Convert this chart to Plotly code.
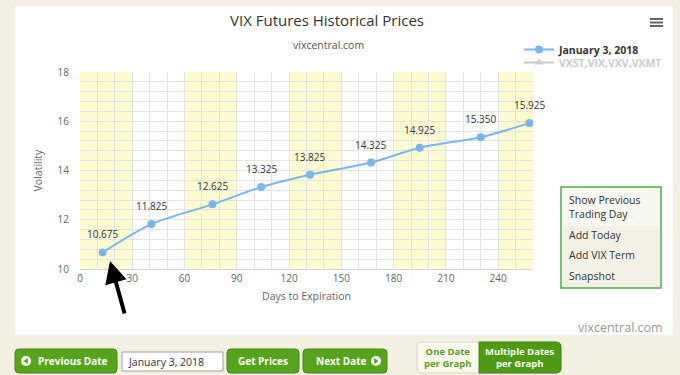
import plotly.graph_objects as go

# ---------------- data ----------------
days = [13, 41, 76, 104, 132, 167, 195, 230, 258]
prices = [10.675, 11.825, 12.625, 13.325, 13.825, 14.325, 14.925, 15.350, 15.925]
series_name = "January 3, 2018"
hidden_name = "VXST,VIX,VXV,VXMT"
x_ticks = [0, 30, 60, 90, 120, 150, 180, 210, 240]
y_ticks = [10, 12, 14, 16, 18]
band_starts = [0, 60, 120, 180, 240]
menu_items = ["Show Previous<br>Trading Day", "Add Today", "Add VIX Term", "Snapshot"]

W, H = 680, 375
FONT = "Open Sans, Liberation Sans, Arial, sans-serif"


def px(x):
    return x / W


def py(y):
    return 1 - y / H


def rrect(x0, y0, x1, y1, r):
    a0, a1 = px(x0), px(x1)
    b0, b1 = py(y0), py(y1)
    rx, ry = r / W, r / H
    return (f"M {a0+rx} {b0} L {a1-rx} {b0} Q {a1} {b0} {a1} {b0-ry} "
            f"L {a1} {b1+ry} Q {a1} {b1} {a1-rx} {b1} L {a0+rx} {b1} "
            f"Q {a0} {b1} {a0} {b1+ry} L {a0} {b0-ry} Q {a0} {b0} {a0+rx} {b0} Z")


fig = go.Figure()

fig.add_trace(go.Scatter(
    x=days, y=prices, name="<b>" + series_name + "</b>",
    mode="lines+markers",
    line=dict(color="#7cb5ec", width=2, shape="spline", smoothing=0.8),
    marker=dict(color="#7cb5ec", size=8),
    legend="legend",
    hoverinfo="x+y",
))
fig.add_trace(go.Scatter(
    x=[None], y=[None], name="<b>" + hidden_name + "</b>",
    mode="lines+markers",
    line=dict(color="#999999", width=2),
    marker=dict(color="#999999", size=8, symbol="triangle-up"),
    visible="legendonly",
    legend="legend2",
))

shapes = []
# white panel
shapes.append(dict(type="rect", xref="paper", yref="paper", x0=px(15), x1=px(673),
                   y0=py(335), y1=py(6), fillcolor="white", line=dict(width=0), layer="below"))
# plot bands
for s in band_starts:
    shapes.append(dict(type="rect", xref="x", yref="y", x0=s, x1=min(s + 30, 260),
                       y0=10, y1=18, fillcolor="#fcfcd0", line=dict(width=0), layer="below"))
# hamburger
for yy in [19, 22.5, 26]:
    shapes.append(dict(type="line", xref="paper", yref="paper", x0=px(650), x1=px(663),
                       y0=py(yy), y1=py(yy), line=dict(color="#666666", width=2)))
# green menu box
shapes.append(dict(type="rect", xref="paper", yref="paper", x0=px(561), x1=px(661),
                   y0=py(288), y1=py(187), fillcolor="#f3f1e6",
                   line=dict(color="#4caf50", width=1.5)))
shapes.append(dict(type="rect", xref="paper", yref="paper", x0=px(562), x1=px(660),
                   y0=py(226), y1=py(188), fillcolor="#f8f7f0", line=dict(width=0)))

GREEN = "#55a41b"
GREEN_DARK = "#3e8a0d"
# buttons
for (x0, x1) in [(15, 117), (227, 299), (303, 387)]:
    shapes.append(dict(type="path", xref="paper", yref="paper", path=rrect(x0, 349, x1, 373, 4),
                       fillcolor=GREEN, line=dict(color=GREEN_DARK, width=1)))
# input box
shapes.append(dict(type="rect", xref="paper", yref="paper", x0=px(122), x1=px(223),
                   y0=py(371), y1=py(352), fillcolor="white", line=dict(color="#a0a0a0", width=1)))
# toggle group
shapes.append(dict(type="path", xref="paper", yref="paper", path=rrect(417, 342, 561, 373, 5),
                   fillcolor="#faf9f0", line=dict(color="#d8d6c4", width=1)))
shapes.append(dict(type="path", xref="paper", yref="paper",
                   path=(f"M {px(479)} {py(342)} L {px(556)} {py(342)} Q {px(561)} {py(342)} {px(561)} {py(347)} "
                         f"L {px(561)} {py(368)} Q {px(561)} {py(373)} {px(556)} {py(373)} L {px(479)} {py(373)} Z"),
                   fillcolor="#4e9a12", line=dict(color=GREEN_DARK, width=1)))
# button icons (circles with triangles)
for cx, d in [(26, -1), (376, 1)]:
    shapes.append(dict(type="circle", xref="paper", yref="paper", x0=px(cx - 5), x1=px(cx + 5),
                       y0=py(366), y1=py(356), fillcolor="white", line=dict(width=0)))
    shapes.append(dict(type="path", xref="paper", yref="paper",
                       path=(f"M {px(cx + 2.5*d)} {py(361)} L {px(cx - 1.8*d)} {py(358)} "
                             f"L {px(cx - 1.8*d)} {py(364)} Z"),
                       fillcolor=GREEN, line=dict(width=0)))

annotations = []


def txt(x, y, text, size=11, color="#333333", xanchor="center", bold=False):
    if bold:
        text = "<b>" + text + "</b>"
    annotations.append(dict(xref="paper", yref="paper", x=px(x), y=py(y), text=text,
                            showarrow=False, xanchor=xanchor, yanchor="middle",
                            font=dict(family=FONT, size=size, color=color)))


txt(327, 20, "VIX Futures Historical Prices", size=15, color="#333333")
txt(328, 45, "vixcentral.com", size=10.5, color="#555555")
txt(665, 327, "vixcentral.com", size=12.5, color="#999999", xanchor="right")

annotations.append(dict(xref="paper", yref="paper", x=px(567), y=py(207),
                        text=menu_items[0], showarrow=False, xanchor="left", yanchor="middle",
                        align="left", font=dict(family=FONT, size=10.5, color="#333333")))
for item, yy in zip(menu_items[1:], [235, 255, 276]):
    txt(567, yy, item, size=10.5, color="#333333", xanchor="left")

txt(73, 361, "Previous Date", size=10, color="white", bold=True)
txt(126, 361.5, "January 3, 2018", size=10.5, color="#333333", xanchor="left")
txt(263, 361, "Get Prices", size=10, color="white", bold=True)
txt(341, 361, "Next Date", size=10, color="white", bold=True)
annotations.append(dict(xref="paper", yref="paper", x=px(448), y=py(357.5),
                        text="<b>One Date<br>per Graph</b>", showarrow=False,
                        xanchor="center", yanchor="middle",
                        font=dict(family=FONT, size=9.5, color="#5a9e1a")))
annotations.append(dict(xref="paper", yref="paper", x=px(520), y=py(357.5),
                        text="<b>Multiple Dates<br>per Graph</b>", showarrow=False,
                        xanchor="center", yanchor="middle",
                        font=dict(family=FONT, size=9.5, color="white")))

# data labels
for d, v in zip(days, prices):
    annotations.append(dict(xref="x", yref="y", x=d, y=v, text=f"{v:.3f}", showarrow=False,
                            yshift=18, font=dict(family=FONT, size=10, color="#333344")))

# black arrow
annotations.append(dict(xref="paper", yref="paper", x=px(110), y=py(261), ax=15, ay=54,
                        text="", showarrow=True, arrowhead=2, arrowsize=1.1, arrowwidth=4,
                        arrowcolor="black", standoff=0))

fig.update_layout(
    width=W, height=H,
    margin=dict(l=0, r=0, t=0, b=0, pad=0, autoexpand=False),
    paper_bgcolor="#f3f0e3",
    plot_bgcolor="white",
    font=dict(family=FONT, color="#666666"),
    showlegend=True,
    shapes=shapes,
    annotations=annotations,
    legend=dict(x=px(519), y=py(35), xanchor="left", yanchor="top",
                bgcolor="rgba(0,0,0,0)", font=dict(family=FONT, size=10.5, color="#333333"),
                itemclick=False, itemdoubleclick=False),
    legend2=dict(x=px(519), y=py(48), xanchor="left", yanchor="top",
                 bgcolor="rgba(0,0,0,0)", font=dict(family=FONT, size=10.5, color="#999999"),
                 itemclick=False, itemdoubleclick=False),
    xaxis=dict(domain=[px(80), px(533)], range=[0, 260], tickvals=x_ticks,
               automargin=False,
               showgrid=True, gridcolor="#e4e4e4", gridwidth=1,
               minor=dict(dtick=10, showgrid=True, gridcolor="#e4e4e4", gridwidth=1),
               showline=True, linecolor="#ccd6eb", linewidth=1, zeroline=False,
               tickfont=dict(family=FONT, size=10, color="#666666"),
               title=dict(text="Days to Expiration", font=dict(family=FONT, size=10.5, color="#666666"),
                          standoff=8),
               fixedrange=True),
    yaxis=dict(domain=[py(269), py(72)], range=[10, 18], tickvals=y_ticks,
               automargin=False,
               showgrid=True, gridcolor="#e4e4e4", gridwidth=1,
               minor=dict(dtick=0.4, showgrid=True, gridcolor="#e4e4e4", gridwidth=1),
               showline=False, zeroline=False,
               ticklabelstandoff=10,
               tickfont=dict(family=FONT, size=10, color="#666666"),
               title=dict(text="Volatility", font=dict(family=FONT, size=10.5, color="#666666"),
                          standoff=12),
               fixedrange=True),
)

fig.write_html("out.html", config={"displayModeBar": False},
               post_script="document.body.style.margin='0px';document.body.style.overflow='hidden';")
